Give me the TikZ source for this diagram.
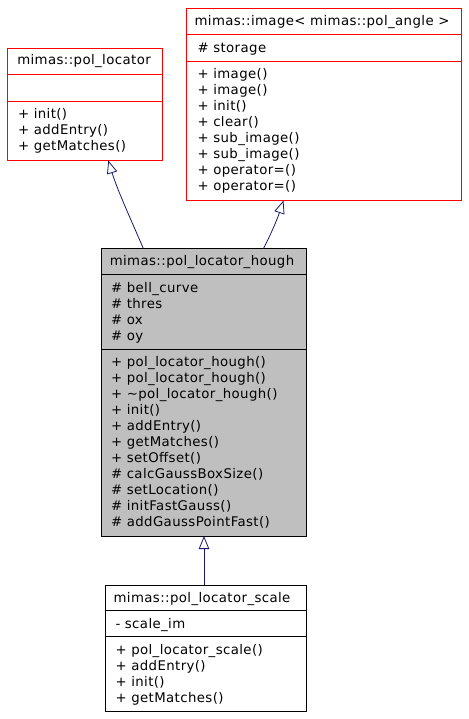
\documentclass[tikz,border=0pt]{standalone}
\usepackage{fontspec}
\setmainfont[LetterSpace=3]{DejaVu Sans}
\usetikzlibrary{arrows.meta}
\definecolor{boxred}{HTML}{FF0000}
\definecolor{boxgray}{HTML}{BFBFBF}
\definecolor{edgeblue}{HTML}{191970}
\begin{document}
\begin{tikzpicture}[x=1pt,y=-1pt,
  classbox/.style={draw=boxred,line width=1pt,inner sep=0pt,outer sep=0pt,anchor=north west,fill=white},
  mainbox/.style={draw=black,line width=1pt,inner sep=0pt,outer sep=0pt,anchor=north west,fill=boxgray},
  txt/.style={inner sep=0pt,outer sep=0pt,font=\fontsize{13.3}{16}\selectfont,anchor=base west},
  ttl/.style={inner sep=0pt,outer sep=0pt,font=\fontsize{13.3}{16}\selectfont,anchor=base},
  inh/.style={draw=edgeblue,line width=0.8pt,-{Triangle[open,length=13pt,width=10.5pt]}}]
\useasboundingbox (0,0) rectangle (468,719);

% ---- mimas::pol_locator
\node[classbox,minimum width=154.5pt,minimum height=112pt] (pol) at (7.5,48.5) {};
\draw[boxred,line width=1pt] ([yshift=-26pt]pol.north west) -- ([yshift=-26pt]pol.north east);
\draw[boxred,line width=1pt] ([yshift=-53pt]pol.north west) -- ([yshift=-53pt]pol.north east);
\node[ttl] (polt) at (84,64.8) {mimas::pol\_locator};
\foreach \t [count=\i] in {{+ init()},{+ addEntry()},{+ getMatches()}}
  \node[txt,name=polm\i] at (18,{118.2+16*(\i-1)}) {\t};

% ---- mimas::image< mimas::pol_angle >
\node[classbox,minimum width=275pt,minimum height=192pt] (img) at (186.5,8.5) {};
\draw[boxred,line width=1pt] ([yshift=-26pt]img.north west) -- ([yshift=-26pt]img.north east);
\draw[boxred,line width=1pt] ([yshift=-53pt]img.north west) -- ([yshift=-53pt]img.north east);
\node[ttl] (imgt) at (322,25.5) {mimas::image<\ mimas::pol\_angle >};
\node[txt] (imga1) at (197.5,52.2) {\# storage};
\foreach \t [count=\i] in {{+ image()},{+ image()},{+ init()},{+ clear()},{+ sub\_image()},{+ sub\_image()},{+ operator=()},{+ operator=()}}
  \node[txt,name=imgm\i] at (197.5,{78.2+16*(\i-1)}) {\t};

% ---- mimas::pol_locator_hough
\node[mainbox,minimum width=205pt,minimum height=287.5pt] (hough) at (101.5,248.5) {};
\draw[black,line width=1pt] ([yshift=-25.5pt]hough.north west) -- ([yshift=-25.5pt]hough.north east);
\draw[black,line width=1pt] ([yshift=-100.5pt]hough.north west) -- ([yshift=-100.5pt]hough.north east);
\node[ttl] (hought) at (202,265.2) {mimas::pol\_locator\_hough};
\foreach \t [count=\i] in {{\# bell\_curve},{\# thres},{\# ox},{\# oy}}
  \node[txt,name=hougha\i] at (111,{292.2+16*(\i-1)}) {\t};
\foreach \t [count=\i] in {{+ pol\_locator\_hough()},{+ pol\_locator\_hough()},{+ \textasciitilde pol\_locator\_hough()},{+ init()},{+ addEntry()},{+ getMatches()},{+ setOffset()},{\# calcGaussBoxSize()},{\# setLocation()},{\# initFastGauss()},{\# addGaussPointFast()}}
  \node[txt,name=houghm\i] at (111,{366.2+16*(\i-1)}) {\t};

% ---- mimas::pol_locator_scale
\node[classbox,draw=black,minimum width=201pt,minimum height=126.5pt] (scale) at (105.5,585) {};
\draw[black,line width=1pt] ([yshift=-25pt]scale.north west) -- ([yshift=-25pt]scale.north east);
\draw[black,line width=1pt] ([yshift=-51.5pt]scale.north west) -- ([yshift=-51.5pt]scale.north east);
\node[ttl] (scalet) at (202,602.2) {mimas::pol\_locator\_scale};
\node[txt] (scalea1) at (115.5,628.8) {- scale\_im};
\foreach \t [count=\i] in {{+ pol\_locator\_scale()},{+ addEntry()},{+ init()},{+ getMatches()}}
  \node[txt,name=scalem\i] at (115.5,{654.5+16*(\i-1)}) {\t};

% ---- inheritance arrows
\draw[inh] ([xshift=41.8pt]hough.north west) .. controls (133,224) and (118,192) .. ([xshift=100.8pt]pol.south west);
\draw[inh] ([xshift=162pt]hough.north west) .. controls (270,236) and (277,220) .. ([xshift=97pt]img.south west);
\draw[inh] ([xshift=98.5pt]scale.north west) -- ([xshift=102.5pt]hough.south west);
\end{tikzpicture}
\end{document}
